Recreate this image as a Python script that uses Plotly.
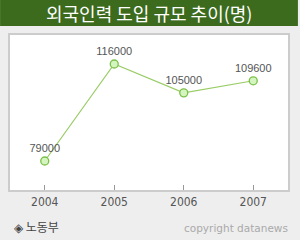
import plotly.graph_objects as go

years = ["2004", "2005", "2006", "2007"]
workers = [79000, 116000, 105000, 109600]
labels = ["79000", "116000", "105000", "109600"]

W, H = 300, 240
L, R, T, B = 10, 10, 35, 50
ph = H - T - B

def py(pix):
    return (H - B - pix) / ph

fig = go.Figure()
fig.add_trace(go.Scatter(
    x=years, y=workers, mode="lines+markers+text",
    text=labels, textposition="top center",
    textfont=dict(family="Liberation Sans", size=11, color="#555555"),
    line=dict(color="#99cc66", width=1.2),
    marker=dict(size=8, color="#d4f5c0", line=dict(color="#7cc04a", width=1.3)),
    cliponaxis=False, hoverinfo="skip"))

fig.update_layout(
    width=W, height=H, margin=dict(l=L, r=R, t=T, b=B),
    paper_bgcolor="#eeeeee", plot_bgcolor="#ffffff", showlegend=False,
    xaxis=dict(type="category", range=[-0.5, 3.5], showgrid=False, zeroline=False,
               showline=True, linecolor="#cccccc", linewidth=1.5, mirror=True,
               ticks="inside", ticklen=5, tickcolor="#999999",
               tickfont=dict(family="DejaVu Sans Condensed, Liberation Sans", size=12, color="#555555"),
               fixedrange=True),
    yaxis=dict(range=[67940, 127060], showgrid=False, zeroline=False, showticklabels=False,
               showline=True, linecolor="#cccccc", linewidth=1.5, mirror=True, ticks="",
               fixedrange=True),
    shapes=[dict(type="rect", xref="paper", yref="paper", x0=-L/(W-L-R), x1=1+R/(W-L-R),
                 y0=py(26), y1=py(0), fillcolor="#3d6b1e", line=dict(width=0), layer="below")],
    annotations=[
        dict(text="외국인력 도입 규모 추이(명)", xref="paper", yref="paper",
             x=0.5, y=py(13), xanchor="center", yanchor="middle", showarrow=False,
             font=dict(family="Noto Sans CJK KR", size=18, color="#ffffff")),
        dict(text="◈ 노동부", xref="paper", yref="paper",
             x=(12-L)/(W-L-R), y=py(226), xanchor="left", yanchor="middle", showarrow=False,
             font=dict(family="Noto Sans CJK KR", size=12, color="#444444")),
        dict(text="copyright datanews", xref="paper", yref="paper",
             x=(292-L)/(W-L-R), y=py(228), xanchor="right", yanchor="middle", showarrow=False,
             font=dict(family="DejaVu Sans", size=10.5, color="#aaaaaa")),
    ])

fig.write_html("out.html", config={"displayModeBar": False})
